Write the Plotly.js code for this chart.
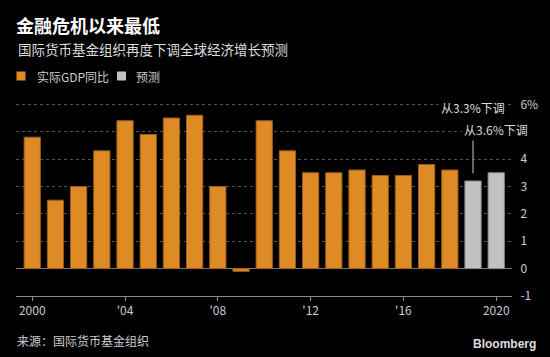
<!DOCTYPE html>
<html>
<head>
<meta charset="utf-8">
<script src="https://cdn.plot.ly/plotly-3.0.1.min.js"></script>
<style>html,body{margin:0;padding:0;background:#000;}#chart{width:550px;height:357px;}</style>
</head>
<body>
<div id="chart"></div>
<script>
// Data
const actualYears = [2000,2001,2002,2003,2004,2005,2006,2007,2008,2009,2010,2011,2012,2013,2014,2015,2016,2017,2018];
const actualGrowth = [4.8,2.5,3.0,4.3,5.4,4.9,5.5,5.6,3.0,-0.1,5.4,4.3,3.5,3.5,3.6,3.4,3.4,3.8,3.6];
const forecastYears = [2019,2020];
const forecastGrowth = [3.2,3.5];
const xTickVals = [2000,2004,2008,2012,2016,2020];
const xTickText = ['2000',"'04","'08","'12","'16",'2020'];
const yTickVals = [-1,0,1,2,3,4,5,6];
const yTickText = ['-1','0','1','2','3','4','','6%'];
const seriesNames = ['实际GDP同比','预测'];
const notes = [
  {year:2019, y:5.89, text:'从3.3%下调'},
  {year:2020, y:5.09, text:'从3.6%下调'}
];

const FONT = '"Noto Sans CJK SC", "Noto Sans", sans-serif';
const ORANGE = '#DE8B26';
const GRAY = '#C2C2C2';

// layout pixel helpers
const W = 550, H = 357, ML = 16, MR = 38, MT = 95, MB = 61;
const PW = W - ML - MR, PH = H - MT - MB;
const px = x => (x - ML) / PW;
const py = y => (H - MB - y) / PH;

const traces = [
  {type:'bar', x:actualYears, y:actualGrowth, name:seriesNames[0], width:0.7,
   marker:{color:ORANGE, line:{color:'#9A5E1A', width:1}}, hoverinfo:'x+y'},
  {type:'bar', x:forecastYears, y:forecastGrowth, name:seriesNames[1], width:0.7,
   marker:{color:GRAY, line:{color:'#8A8A8A', width:1}}, hoverinfo:'x+y'}
];

const annotations = [
  {xref:'paper', yref:'paper', x:px(16), y:py(49), xanchor:'left', yanchor:'middle', showarrow:false,
   text:'国际货币基金组织再度下调全球经济增长预测', font:{family:FONT, size:13.5, color:'#DDDDDD'}},
  {xref:'paper', yref:'paper', x:px(35), y:py(76), xanchor:'left', yanchor:'middle', showarrow:false,
   text:seriesNames[0], font:{family:FONT, size:12, color:'#CCCCCC'}},
  {xref:'paper', yref:'paper', x:px(134), y:py(76), xanchor:'left', yanchor:'middle', showarrow:false,
   text:seriesNames[1], font:{family:FONT, size:12, color:'#CCCCCC'}},
  {xref:'paper', yref:'paper', x:px(15), y:py(340), xanchor:'left', yanchor:'middle', showarrow:false,
   text:'来源：国际货币基金组织', font:{family:FONT, size:12, color:'#CCCCCC'}},
  {xref:'paper', yref:'paper', x:px(538), y:py(344), xanchor:'right', yanchor:'middle', showarrow:false,
   text:'<b>Bloomberg</b>', font:{family:'"Liberation Sans", Arial, sans-serif', size:12, color:'#DDDDDD'}}
];
notes.forEach(n => annotations.push({
  xref:'x', yref:'y', x:n.year, y:n.y, xanchor:'center', yanchor:'middle', showarrow:false,
  text:n.text, bgcolor:'#000000', borderpad:2, font:{family:FONT, size:12, color:'#DDDDDD'}
}));

const shapes = [
  {type:'rect', xref:'paper', yref:'paper', x0:px(16.5), x1:px(25.5), y0:py(80.5), y1:py(71.5),
   fillcolor:ORANGE, line:{width:0}},
  {type:'rect', xref:'paper', yref:'paper', x0:px(117), x1:px(126), y0:py(80.5), y1:py(71.5),
   fillcolor:GRAY, line:{width:0}},
  {type:'line', xref:'x', yref:'y', x0:forecastYears[0], x1:forecastYears[0], y0:3.48, y1:5.3,
   line:{color:'#8A8A8A', width:1.5}}
];

const layout = {
  width:W, height:H,
  paper_bgcolor:'#000000', plot_bgcolor:'#000000',
  margin:{l:ML, r:MR, t:MT, b:MB, pad:0},
  showlegend:false,
  barmode:'overlay',
  title:{text:'<b>金融危机以来最低</b>', xref:'container', yref:'container',
         x:16/W, xanchor:'left', y:1-27/H, yanchor:'middle',
         font:{family:FONT, size:18, color:'#FFFFFF'}},
  font:{family:FONT, color:'#CCCCCC'},
  xaxis:{range:[1999.3,2020.68], tickvals:xTickVals, ticktext:xTickText,
         showgrid:false, zeroline:false, showline:true, linecolor:'#8A8A8A', linewidth:1,
         ticks:'outside', ticklen:4, tickcolor:'#8A8A8A', tickwidth:1,
         tickfont:{family:FONT, size:12, color:'#CCCCCC'}, fixedrange:true},
  yaxis:{range:[-1,6.34], side:'right', tickvals:yTickVals, ticktext:yTickText,
         showgrid:true, gridcolor:'#555555', griddash:'dot', gridwidth:1,
         zeroline:true, zerolinecolor:'#7A7A7A', zerolinewidth:1.5,
         showline:false, ticks:'outside', ticklen:5, tickcolor:'rgba(0,0,0,0)',
         tickfont:{family:FONT, size:12, color:'#CCCCCC'}, fixedrange:true},
  annotations:annotations,
  shapes:shapes
};

Plotly.newPlot('chart', traces, layout, {displayModeBar:false, staticPlot:true});
</script>
</body>
</html>
